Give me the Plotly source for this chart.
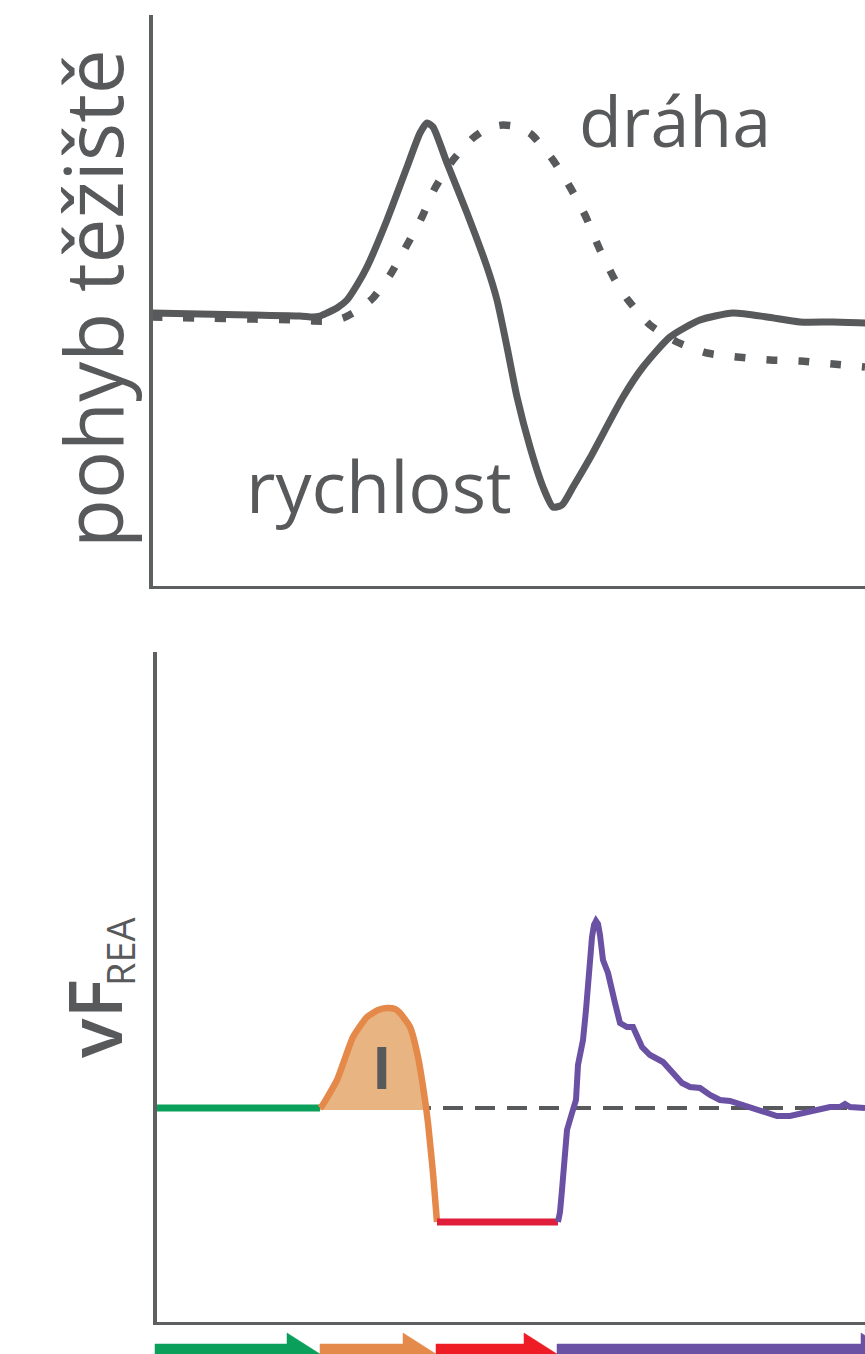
import numpy as np
import plotly.graph_objects as go

# ---------------- data (time in ms, signals in arbitrary units) ----------------
# top panel: centre-of-mass velocity (solid) and path (dashed)
t_vel = [-4, 45, 95, 145, 158, 165, 172, 182, 192, 202, 212, 232, 252, 265, 272, 278,
         292, 312, 332, 342, 352, 362, 375, 388, 398, 407, 418, 435, 468, 488, 515,
         545, 578, 612, 645, 678, 712]
vel = [0.00, -0.01, -0.02, -0.03, -0.04, -0.03, 0.00, 0.05, 0.13, 0.28, 0.46, 0.93,
       1.46, 1.80, 1.90, 1.86, 1.50, 1.00, 0.46, 0.13, -0.34, -0.84, -1.34, -1.74,
       -1.94, -1.92, -1.74, -1.45, -0.84, -0.54, -0.24, -0.07, 0.00, -0.04, -0.09,
       -0.09, -0.10]

t_path = [-4, 45, 95, 145, 158, 175, 188, 203, 218, 235, 252, 267, 280, 298, 318, 333,
          348, 363, 377, 398, 415, 430, 445, 460, 473, 495, 522, 552, 582, 615, 645,
          678, 710]
path = [-0.04, -0.05, -0.06, -0.07, -0.08, -0.08, -0.05, 0.03, 0.15, 0.38, 0.68, 0.96,
        1.25, 1.53, 1.75, 1.85, 1.88, 1.86, 1.78, 1.53, 1.26, 0.98, 0.63, 0.33, 0.13,
        -0.12, -0.29, -0.40, -0.44, -0.47, -0.48, -0.51, -0.54]

# bottom panel: vF_REA, split into phases
t_green = [0, 165]
f_green = [0.0, 0.0]

t_orange = [165, 167, 182, 198, 212, 223, 232, 240, 245, 255, 263, 270, 273, 278, 282]
f_orange = [0.00, 0.02, 0.28, 0.71, 0.91, 0.98, 1.00, 0.99, 0.95, 0.81, 0.51, 0.08,
            -0.15, -0.65, -1.14]

t_red = [282, 403]
f_red = [-1.14, -1.14]

t_purple = [403, 405, 407, 409, 412, 417, 421, 423, 425, 428, 431, 433, 435, 437, 439,
            441, 443, 445, 448, 453, 460, 465, 472, 478, 487, 495, 508, 518, 527, 535,
            545, 555, 565, 575, 585, 598, 612, 622, 635, 648, 662, 675, 685, 690, 695,
            710]
f_purple = [-1.14, -1.04, -0.82, -0.52, -0.22, -0.05, 0.08, 0.43, 0.53, 0.68, 0.98,
            1.23, 1.53, 1.71, 1.83, 1.87, 1.84, 1.73, 1.48, 1.35, 1.05, 0.85, 0.81,
            0.81, 0.61, 0.53, 0.46, 0.35, 0.25, 0.21, 0.20, 0.13, 0.08, 0.07, 0.04,
            -0.01, -0.05, -0.08, -0.08, -0.05, -0.03, 0.01, 0.01, 0.04, 0.01, 0.00]

# phase boundaries for the arrows under the time axis
phase_bounds = [0, 165, 281, 402, 739]
phase_colors = ["#0a9f5a", "#e48a4b", "#ee1c25", "#6a51a3"]

# ---------------- figure ----------------
W, H = 865, 1354
GRAY = "#58595b"
AX = "#5e5f61"
FONT = "Open Sans"


def px(x):
    return x / W


def py(y):
    return 1 - y / H


fig = go.Figure()

# top panel
fig.add_trace(go.Scatter(x=t_path, y=path, mode="lines", xaxis="x", yaxis="y",
                         line=dict(color=GRAY, width=7.5, dash="11px,21px",
                                   shape="spline", smoothing=0.6)))
fig.add_trace(go.Scatter(x=t_vel, y=vel, mode="lines", xaxis="x", yaxis="y",
                         line=dict(color=GRAY, width=7, shape="spline", smoothing=0.6)))

# bottom panel: baseline
fig.add_trace(go.Scatter(x=[0, 710], y=[0, 0], mode="lines", xaxis="x2", yaxis="y2",
                         line=dict(color=GRAY, width=4, dash="20px,12px")))

# shaded positive impulse (I)
to = np.array(t_orange, float)
fo = np.array(f_orange, float)
idx = np.where(fo < 0)[0][0]
t_cross = to[idx - 1] + (to[idx] - to[idx - 1]) * fo[idx - 1] / (fo[idx - 1] - fo[idx])
fill_t = list(to[:idx]) + [t_cross, to[0]]
fill_f = list(fo[:idx]) + [0.0, 0.0]
fig.add_trace(go.Scatter(x=fill_t, y=fill_f, mode="lines", fill="toself",
                         fillcolor="#e8b481", xaxis="x2", yaxis="y2",
                         line=dict(color="#e8b481", width=4)))

fig.add_trace(go.Scatter(x=t_green, y=f_green, mode="lines", xaxis="x2", yaxis="y2",
                         line=dict(color="#0a9f5a", width=7)))
fig.add_trace(go.Scatter(x=t_orange, y=f_orange, mode="lines", xaxis="x2", yaxis="y2",
                         line=dict(color="#e5894a", width=6.5, shape="spline", smoothing=0.5)))
fig.add_trace(go.Scatter(x=t_red, y=f_red, mode="lines", xaxis="x2", yaxis="y2",
                         line=dict(color="#e01e3c", width=7)))
fig.add_trace(go.Scatter(x=t_purple, y=f_purple, mode="lines", xaxis="x2", yaxis="y2",
                         line=dict(color="#6a51a3", width=6)))

# phase arrows
SH, HH, L = 10, 21, 33
for i, col in enumerate(phase_colors):
    a, b = phase_bounds[i], phase_bounds[i + 1]
    xs = [a, a, b - L, b - L, b, b - L, b - L, a]
    ys = [-SH, SH, SH, HH, 0, -HH, -SH, -SH]
    fig.add_trace(go.Scatter(x=xs, y=ys, mode="lines", fill="toself", fillcolor=col,
                             line=dict(color=col, width=0.5), xaxis="x3", yaxis="y3"))

axis_style = dict(showline=True, linecolor=AX, linewidth=3.5, showgrid=False,
                  zeroline=False, showticklabels=False, ticks="", fixedrange=True)

fig.update_layout(
    width=W, height=H, margin=dict(l=0, r=0, t=0, b=0),
    paper_bgcolor="white", plot_bgcolor="white", showlegend=False,
    xaxis=dict(domain=[px(152.5), 1], range=[-2.5, 710], anchor="y", **axis_style),
    yaxis=dict(domain=[py(585.5), py(15)], range=[-2.725, 2.98], anchor="x", **axis_style),
    xaxis2=dict(domain=[px(156.5), 1], range=[1.5, 710], anchor="y2", **axis_style),
    yaxis2=dict(domain=[py(1321.5), py(652)], range=[-2.135, 4.56], anchor="x2", **axis_style),
    xaxis3=dict(domain=[px(150), 1], range=[-5, 710], anchor="y3", visible=False),
    yaxis3=dict(domain=[0, py(1330)], range=[0, 24], anchor="x3", visible=False),
)


def ann(text, x, y, size, angle=0, xanchor="center", weight="normal"):
    fig.add_annotation(text=text, x=px(x), y=py(y), xref="paper", yref="paper",
                       showarrow=False, textangle=angle, xanchor=xanchor, yanchor="middle",
                       font=dict(family=FONT, size=size, color=GRAY, weight=weight))


ann("pohyb těžiště", 91, 299, 80, angle=-90, weight=500)
ann("dráha", 577, 120, 70, xanchor="left", weight=500)
ann("rychlost", 244, 485, 72, xanchor="left", weight=500)
ann("vF", 93, 1019, 74, angle=-90, weight=600)
ann("REA", 120, 951, 38, angle=-90)
ann("I", 381.5, 1066, 59, weight=700)

fig.write_html("out.html", config={"staticPlot": True},
               post_script="document.body.style.margin='0';document.body.style.overflow='hidden';")
